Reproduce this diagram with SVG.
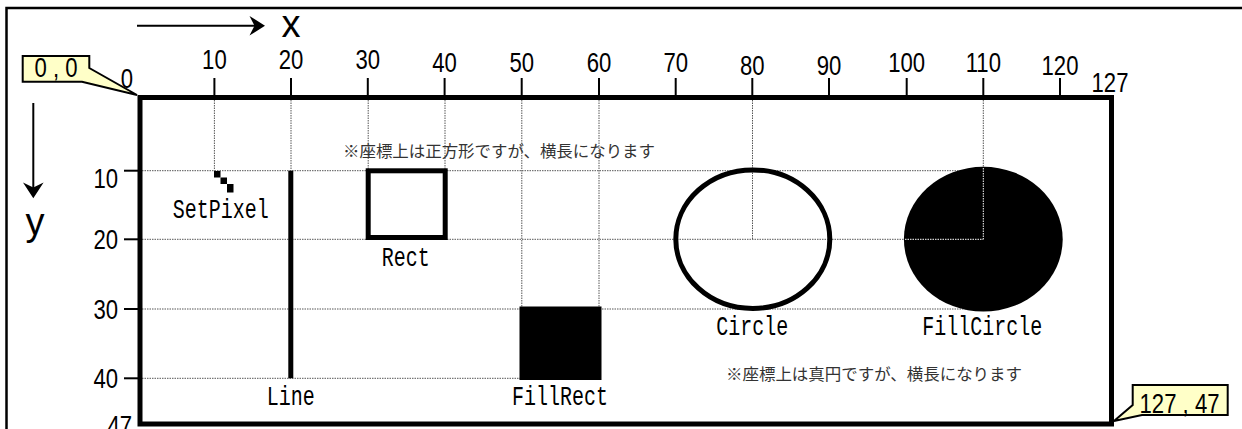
<svg xmlns="http://www.w3.org/2000/svg" width="1242" height="429" viewBox="0 0 1242 429">
<style>
.tick{font-family:"Liberation Sans",Arial,sans-serif;font-size:27px;fill:#000;text-anchor:middle}
.ylab{font-family:"Liberation Sans",Arial,sans-serif;font-size:27px;fill:#000;text-anchor:end}
.lbl{font-family:"Liberation Mono","DejaVu Sans Mono",monospace;font-size:20px;fill:#000;text-anchor:middle}
.note{font-family:"Noto Sans CJK JP",sans-serif;font-size:16px;fill:#333}
.axis{font-family:"Liberation Sans",Arial,sans-serif;font-size:38px;fill:#000;text-anchor:middle}
.grid{stroke:#555;stroke-width:1;stroke-dasharray:1.5 1;fill:none}
.gridw{stroke:#fff;stroke-width:1;stroke-dasharray:1.5 1;fill:none}
.tk{stroke:#000;stroke-width:2}
.call{fill:#ffffc8;stroke:#000;stroke-width:2}
</style>

<!-- outer frame -->
<path d="M6.5 429 V8 H1242" fill="none" stroke="#000" stroke-width="2.5"/>

<!-- grid -->
<g id="grid">
  <line class="grid" x1="214.4" y1="100" x2="214.4" y2="170.7"/>
  <line class="grid" x1="291" y1="100" x2="291" y2="170.7"/>
  <line class="grid" x1="368.2" y1="100" x2="368.2" y2="170.7"/>
  <line class="grid" x1="445" y1="100" x2="445" y2="170.7"/>
  <line class="grid" x1="521.8" y1="100" x2="521.8" y2="309"/>
  <line class="grid" x1="599" y1="100" x2="599" y2="309"/>
  <line class="grid" x1="752.5" y1="100" x2="752.5" y2="239.3"/>
  <line class="grid" x1="983.3" y1="100" x2="983.3" y2="239.3"/>
  <line class="grid" x1="142" y1="170.7" x2="983.3" y2="170.7"/>
  <line class="grid" x1="142" y1="239.3" x2="983.3" y2="239.3"/>
  <line class="grid" x1="142" y1="309" x2="983.3" y2="309"/>
  <line class="grid" x1="142" y1="378.3" x2="521.8" y2="378.3"/>
</g>

<!-- main box -->
<g id="screen">
  <rect x="140" y="97.5" width="971.5" height="326.5" fill="none" stroke="#000" stroke-width="5"/>
</g>

<!-- ticks and labels -->
<g id="xticks">
  <line class="tk" x1="214.4" y1="78" x2="214.4" y2="96"/>
  <line class="tk" x1="291" y1="78" x2="291" y2="96"/>
  <line class="tk" x1="367.8" y1="78" x2="367.8" y2="96"/>
  <line class="tk" x1="444.6" y1="78" x2="444.6" y2="96"/>
  <line class="tk" x1="521.7" y1="78" x2="521.7" y2="96"/>
  <line class="tk" x1="599" y1="78" x2="599" y2="96"/>
  <line class="tk" x1="675.7" y1="78" x2="675.7" y2="96"/>
  <line class="tk" x1="752.3" y1="78" x2="752.3" y2="96"/>
  <line class="tk" x1="829" y1="78" x2="829" y2="96"/>
  <line class="tk" x1="906.7" y1="78" x2="906.7" y2="96"/>
  <line class="tk" x1="983.3" y1="78" x2="983.3" y2="96"/>
  <line class="tk" x1="1060" y1="78" x2="1060" y2="96"/>
  <text class="tick" transform="translate(127 88) scale(0.82 1)">0</text>
  <text class="tick" transform="translate(214.4 69) scale(0.82 1)">10</text>
  <text class="tick" transform="translate(291 69) scale(0.82 1)">20</text>
  <text class="tick" transform="translate(367.8 69) scale(0.82 1)">30</text>
  <text class="tick" transform="translate(444.6 72) scale(0.82 1)">40</text>
  <text class="tick" transform="translate(521.7 72) scale(0.82 1)">50</text>
  <text class="tick" transform="translate(599 72) scale(0.82 1)">60</text>
  <text class="tick" transform="translate(675.7 72) scale(0.82 1)">70</text>
  <text class="tick" transform="translate(752.3 75) scale(0.82 1)">80</text>
  <text class="tick" transform="translate(829 75) scale(0.82 1)">90</text>
  <text class="tick" transform="translate(906.7 72) scale(0.82 1)">100</text>
  <text class="tick" transform="translate(983.3 72) scale(0.82 1)">110</text>
  <text class="tick" transform="translate(1060 75) scale(0.82 1)">120</text>
  <text class="tick" transform="translate(1110 92) scale(0.82 1)">127</text>
</g>
<g id="yticks">
  <line class="tk" x1="124" y1="170.7" x2="139" y2="170.7"/>
  <line class="tk" x1="124" y1="239.3" x2="139" y2="239.3"/>
  <line class="tk" x1="124" y1="309" x2="139" y2="309"/>
  <line class="tk" x1="124" y1="378.3" x2="139" y2="378.3"/>
  <text class="ylab" transform="translate(118 188) scale(0.82 1)">10</text>
  <text class="ylab" transform="translate(118 249) scale(0.82 1)">20</text>
  <text class="ylab" transform="translate(118 318.5) scale(0.82 1)">30</text>
  <text class="ylab" transform="translate(118 388) scale(0.82 1)">40</text>
  <text class="ylab" transform="translate(132 435) scale(0.82 1)">47</text>
</g>

<!-- axis arrows -->
<g id="connectors">
  <line x1="137" y1="25.7" x2="256" y2="25.7" stroke="#000" stroke-width="2"/>
  <path d="M265 25.7 L249.5 16 L254.5 25.7 L249.5 35.5 Z" fill="#000"/>
  <line x1="33.3" y1="103" x2="33.3" y2="190" stroke="#000" stroke-width="2"/>
  <path d="M33.3 198.3 L23 182.5 L33.3 187.5 L43.6 182.5 Z" fill="#000"/>
</g>
<g id="axis-x"><text class="axis" x="291" y="37">x</text></g>
<g id="axis-y"><text class="axis" x="35" y="234.5">y</text></g>

<!-- callouts -->
<g id="callout-origin">
  <path class="call" d="M22.7 56 H89.3 V68 L137 95 L82 81.7 H22.7 Z"/>
  <text class="tick" transform="translate(56 77) scale(0.82 1)">0 , 0</text>
</g>
<g id="callout-end">
  <path class="call" d="M1132.7 385 H1227.7 V415 H1142 L1114 421 L1132.7 405 Z"/>
  <text class="tick" transform="translate(1179.5 413) scale(0.82 1)">127 , 47</text>
</g>

<!-- SetPixel -->
<g id="setpixel">
  <rect x="214" y="171" width="6.5" height="6.5" fill="#000"/>
  <rect x="220.5" y="177.5" width="6.5" height="6.5" fill="#000"/>
  <rect x="227" y="184" width="6.5" height="8.5" fill="#000"/>
  <text class="lbl" transform="translate(220.8 218.3) scale(1 1.35)">SetPixel</text>
</g>

<!-- Line -->
<g id="line">
  <line x1="290.8" y1="170.7" x2="290.8" y2="378.3" stroke="#000" stroke-width="5"/>
  <text class="lbl" transform="translate(290.8 405) scale(1 1.35)">Line</text>
</g>

<!-- Rect -->
<g id="rect">
  <rect x="368.2" y="170.8" width="77" height="66.7" fill="none" stroke="#000" stroke-width="5"/>
  <text class="lbl" transform="translate(405.8 266) scale(1 1.35)">Rect</text>
</g>
<text class="note" x="343" y="157" textLength="312" lengthAdjust="spacingAndGlyphs">※座標上は正方形ですが、横長になります</text>

<!-- FillRect -->
<g id="fillrect">
  <rect x="519.5" y="306.5" width="82" height="73.5" fill="#000"/>
  <text class="lbl" transform="translate(560 405) scale(1 1.35)">FillRect</text>
</g>

<!-- Circle -->
<g id="circle">
  <ellipse cx="752.8" cy="239.2" rx="77" ry="69.3" fill="none" stroke="#000" stroke-width="5"/>
  <text class="lbl" transform="translate(752.3 335) scale(1 1.35)">Circle</text>
</g>

<!-- FillCircle -->
<g id="fillcircle">
  <ellipse cx="983.3" cy="239.2" rx="79.4" ry="72.4" fill="#000"/>
  <line class="gridw" x1="983.3" y1="168" x2="983.3" y2="239.3"/>
  <line class="gridw" x1="905" y1="239.3" x2="983.3" y2="239.3"/>
  <text class="lbl" transform="translate(982.3 335) scale(1 1.35)">FillCircle</text>
</g>
<text class="note" x="726" y="380" textLength="296" lengthAdjust="spacingAndGlyphs">※座標上は真円ですが、横長になります</text>
</svg>
